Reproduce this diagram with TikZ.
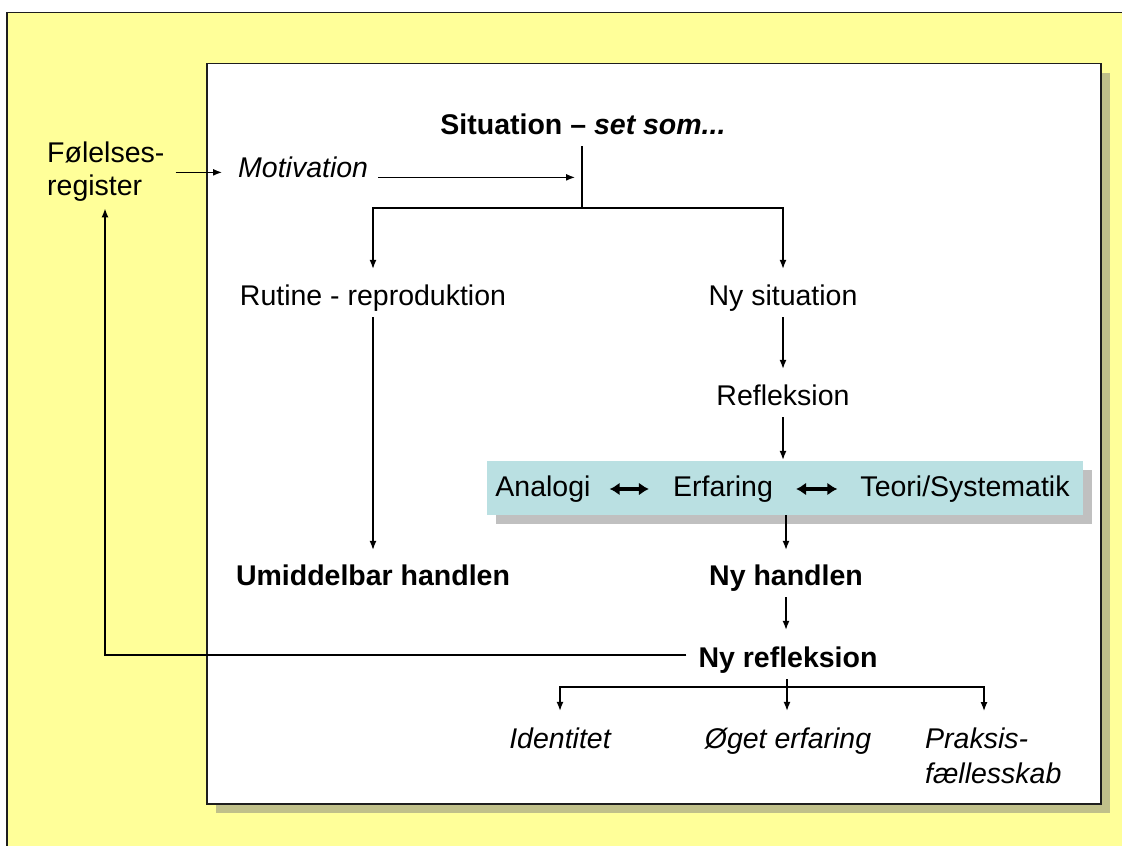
\documentclass[tikz,border=0pt]{standalone}
\usepackage{fontspec}
\setmainfont{Liberation Sans}
\usetikzlibrary{arrows.meta}
\definecolor{bgyellow}{RGB}{255,255,153}
\definecolor{khakishadow}{RGB}{192,192,138}
\definecolor{boxteal}{RGB}{186,224,226}
\definecolor{shadowgray}{RGB}{192,192,192}
\definecolor{framegray}{RGB}{30,30,30}
\begin{document}
\begin{tikzpicture}[x=1pt,y=-1pt,
  txt/.style={font=\fontsize{28.5}{34}\selectfont, inner sep=0pt, text height=20pt, text depth=6pt, anchor=base},
  conn/.style={line width=1.3pt, -{Latex[length=9pt,width=7pt]}},
  plainline/.style={line width=1.3pt},
  dbl/.style={line width=4pt, {Latex[length=10pt,width=13pt]}-{Latex[length=10pt,width=13pt]}}]
% background and frames
\useasboundingbox (0,0) rectangle (1122,846);
\begin{scope}
\clip (0,0) rectangle (1122,846);
\fill[white] (0,0) rectangle (1122,846);
\fill[bgyellow] (7,12.5) rectangle (1130,860);
\draw[framegray, line width=1.5pt] (7,860) -- (7,12.5) -- (1130,12.5);
\end{scope}
\fill[khakishadow] (216,73) rectangle (1110,813);
\path[fill=white, draw=framegray, line width=1.5pt] (207,63.5) rectangle (1101,804);
\fill[shadowgray] (496,470) rectangle (1092,524);
\node[fill=boxteal, minimum width=596pt, minimum height=54pt, inner sep=0pt] (box) at (785,488) {};
% texts
\node[txt] (sit) at (583,134) {\bfseries Situation – \itshape set som...};
\node[font=\fontsize{28.5}{33}\selectfont, inner sep=0pt, anchor=north west, align=left] (fol) at (47,141.5) {Følelses-\\register};
\node[txt, anchor=base west] (mot) at (238,177) {\itshape Motivation};
\node[txt] (rut) at (373,305) {Rutine - reproduktion};
\node[txt] (nys) at (783,305) {Ny situation};
\node[txt] (ref) at (783,405) {Refleksion};
\node[txt] (ana) at (543,496) {Analogi};
\node[txt] (erf) at (723,496) {Erfaring};
\node[txt] (teo) at (965,496) {Teori/Systematik};
\node[txt] (umh) at (373,585) {\bfseries Umiddelbar handlen};
\node[txt] (nyh) at (786,585) {\bfseries Ny handlen};
\node[txt] (nyr) at (788,667) {\bfseries Ny refleksion};
\node[txt] (ide) at (560,748) {\itshape Identitet};
\node[txt] (oge) at (788,748) {\itshape Øget erfaring};
\node[font=\fontsize{28.5}{35}\selectfont\itshape, inner sep=0pt, anchor=north west, align=left] (prak) at (925,728) {Praksis-\\fællesskab};
% junctions
\coordinate (sitj) at (582,208);
\coordinate (rj) at (787,687);
\coordinate (pj) at (984,687);
\coordinate (fbc) at (105,655);
% connectors
\draw[conn, shorten <=11pt, shorten >=16pt] ([yshift=2pt]mot.mid west -| fol.east) -- ([yshift=2pt]mot.mid west);
\draw[conn, shorten <=10pt, shorten >=7pt] ([yshift=-3pt]mot.mid east) -- ([yshift=-3pt]mot.mid east -| sitj);
\draw[plainline, shorten <=6pt] (sitj |- sit.south) -- (sitj);
\draw[conn, shorten >=16pt] (sitj) -| (rut.north);
\draw[conn, shorten >=16pt] (sitj) -| (nys.north);
\draw[conn, shorten <=6pt, shorten >=15pt] (rut.south) -- (umh.north);
\draw[conn, shorten <=6pt, shorten >=16pt] (nys.south) -- (nys.south |- ref.north);
\draw[conn, shorten <=6pt, shorten >=1pt] (ref.south) -- (ref.south |- box.north);
\draw[conn, shorten >=15pt] (box.south -| nyh.north) -- (nyh.north);
\draw[conn, shorten <=6pt, shorten >=17pt] (nyh.south) -- (nyh.south |- nyr.north);
\draw[plainline, shorten <=6pt] (nyr.south -| rj) -- (rj);
\draw[conn, shorten >=17pt] (rj) -| (ide.north);
\draw[conn, shorten >=17pt] (rj) -- (rj |- oge.north);
\draw[conn, shorten >=17pt] (rj) -- (pj) -- (pj |- prak.north);
\draw[conn, shorten <=12pt, shorten >=7pt] ([yshift=5pt]nyr.west) -- ([yshift=5pt]nyr.west -| fbc) -- (fbc |- fol.south);
\draw[dbl] ([xshift=19pt]ana.east) -- ([xshift=-24pt]erf.west);
\draw[dbl] ([xshift=23pt]erf.east) -- ([xshift=-23pt]teo.west);
\end{tikzpicture}
\end{document}
